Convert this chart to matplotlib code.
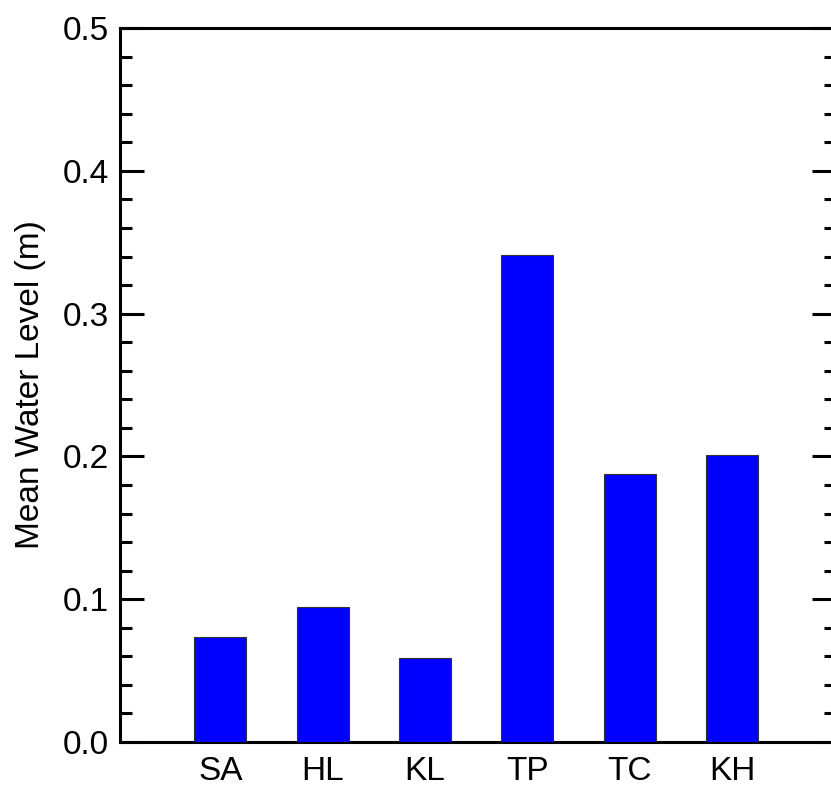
import matplotlib.pyplot as plt
from matplotlib.ticker import MultipleLocator

sites = ["SA", "HL", "KL", "TP", "TC", "KH"]
mean_level = [0.0735, 0.0945, 0.0588, 0.341, 0.1877, 0.201]

plt.rcParams["font.family"] = ["Liberation Sans", "DejaVu Sans"]

fig = plt.figure(figsize=(8.31, 7.88), dpi=100)
# right spine sits just past the figure edge, as in the original
ax = fig.add_axes([0.1444, 0.0584, 0.862, 0.906])

x = list(range(1, len(sites) + 1))
ax.bar(x, mean_level, width=0.51, color="#0000ff", edgecolor="#333333", linewidth=0.8, zorder=3)

ax.set_xlim(0.02, 7.02)
ax.set_ylim(0, 0.5)
ax.set_xticks(x)
ax.set_xticklabels(sites)
ax.yaxis.set_major_locator(MultipleLocator(0.1))
ax.yaxis.set_minor_locator(MultipleLocator(0.02))
ax.yaxis.set_major_formatter(plt.FormatStrFormatter("%.1f"))

ax.tick_params(axis="x", length=0, labelsize=24, pad=10)
ax.tick_params(axis="y", which="major", direction="in", length=17, width=2.2,
               labelsize=24, left=True, right=True, pad=8)
ax.tick_params(axis="y", which="minor", direction="in", length=8.5, width=2.2,
               left=True, right=True)
for s in ax.spines.values():
    s.set_linewidth(2.2)

ax.set_ylabel("Mean Water Level (m)", fontsize=24, labelpad=12)

fig.savefig("out.png", dpi=100)
